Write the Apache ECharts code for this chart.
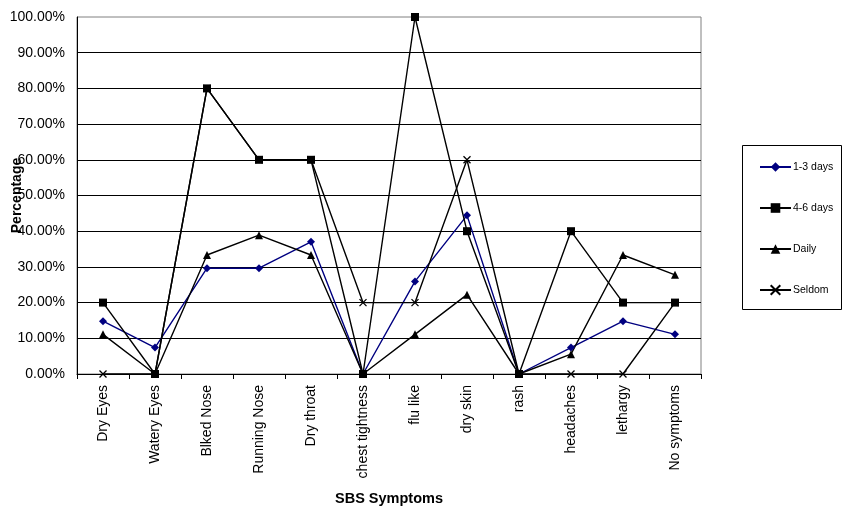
<!DOCTYPE html>
<html>
<head>
<meta charset="utf-8">
<script src="https://cdn.jsdelivr.net/npm/echarts@6/dist/echarts.min.js"></script>
<style>html,body{margin:0;padding:0;background:#fff}#c{width:845px;height:507px}</style>
</head>
<body>
<div id="c"></div>
<script>
const categories = ['Dry Eyes','Watery Eyes','Blked Nose','Running Nose','Dry throat','chest tightness','flu like','dry skin','rash','headaches','lethargy','No symptoms'];
const days13 = [0.1481,0.0741,0.2963,0.2963,0.3704,0,0.2593,0.4444,0,0.0741,0.1481,0.1111];
const days46 = [0.20,0,0.80,0.60,0.60,0,1.00,0.40,0,0.40,0.20,0.20];
const daily  = [0.1111,0,0.3333,0.3889,0.3333,0,0.1111,0.2222,0,0.0556,0.3333,0.2778];
const seldom = [0,0,0.80,0.60,0.60,0.20,0.20,0.60,0,0,0,0.20];
const seriesNames = ['1-3 days','4-6 days','Daily','Seldom'];

const font = '"Liberation Sans", Arial, sans-serif';
const crossPath = 'path://M0,0L10,10M10,0L0,10';

function mk(name, data, color, symbol, size, cross) {
  return {
    name, type: 'line', data, symbol, symbolSize: size,
    lineStyle: { color, width: 1.4 },
    itemStyle: cross ? { color: 'rgba(0,0,0,0)', borderColor: color, borderWidth: 1.3 } : { color, borderWidth: 0 },
    emphasis: { disabled: true },
    animation: false
  };
}

const chart = echarts.init(document.getElementById('c'));
chart.setOption({
  backgroundColor: '#fff',
  animation: false,
  textStyle: { fontFamily: font },
  grid: { left: 77, right: 144, top: 17, bottom: 133, containLabel: false, outerBoundsMode: 'none', show: true, borderColor: '#808080', borderWidth: 1 },
  xAxis: {
    type: 'category', data: categories, boundaryGap: true,
    name: 'SBS Symptoms', nameLocation: 'middle', nameGap: 117, nameMoveOverlap: false,
    nameTextStyle: { fontFamily: font, fontSize: 14.5, fontWeight: 'bold', color: '#000' },
    axisLine: { lineStyle: { color: '#000', width: 1 } },
    axisTick: { show: true, length: 5, lineStyle: { color: '#000' } },
    axisLabel: { rotate: 90, margin: 11, fontFamily: font, fontSize: 14, color: '#000' },
    splitLine: { show: false }
  },
  yAxis: {
    type: 'value', min: 0, max: 1, interval: 0.1,
    name: 'Percentage', nameLocation: 'middle', nameGap: 53, nameRotate: 90, nameMoveOverlap: false,
    nameTextStyle: { fontFamily: font, fontSize: 14, fontWeight: 'bold', color: '#000' },
    axisLine: { show: true, lineStyle: { color: '#000', width: 1 } },
    axisTick: { show: false },
    axisLabel: { margin: 12, fontFamily: font, fontSize: 14, color: '#000', formatter: v => (v * 100).toFixed(2) + '%' },
    splitLine: { show: true, showMinLine: false, showMaxLine: false, lineStyle: { color: '#000', width: 1 } }
  },
  legend: {
    orient: 'vertical', left: 754, top: 155,
    itemWidth: 31, itemHeight: 12, itemGap: 27,
    textStyle: { fontFamily: font, fontSize: 10.5, color: '#000', lineHeight: 14, padding: [0,0,0,-3] },
    data: seriesNames
  },
  graphic: [{
    type: 'rect', shape: { x: 742.5, y: 145.5, width: 99, height: 164 },
    style: { fill: 'none', stroke: '#000', lineWidth: 1 }, silent: true, z: -1
  }],
  series: [
    mk('1-3 days', days13, '#000080', 'diamond', 8),
    mk('4-6 days', days46, '#000', 'rect', 8),
    mk('Daily', daily, '#000', 'triangle', 8),
    mk('Seldom', seldom, '#000', crossPath, 7, true)
  ]
});
</script>
</body>
</html>
